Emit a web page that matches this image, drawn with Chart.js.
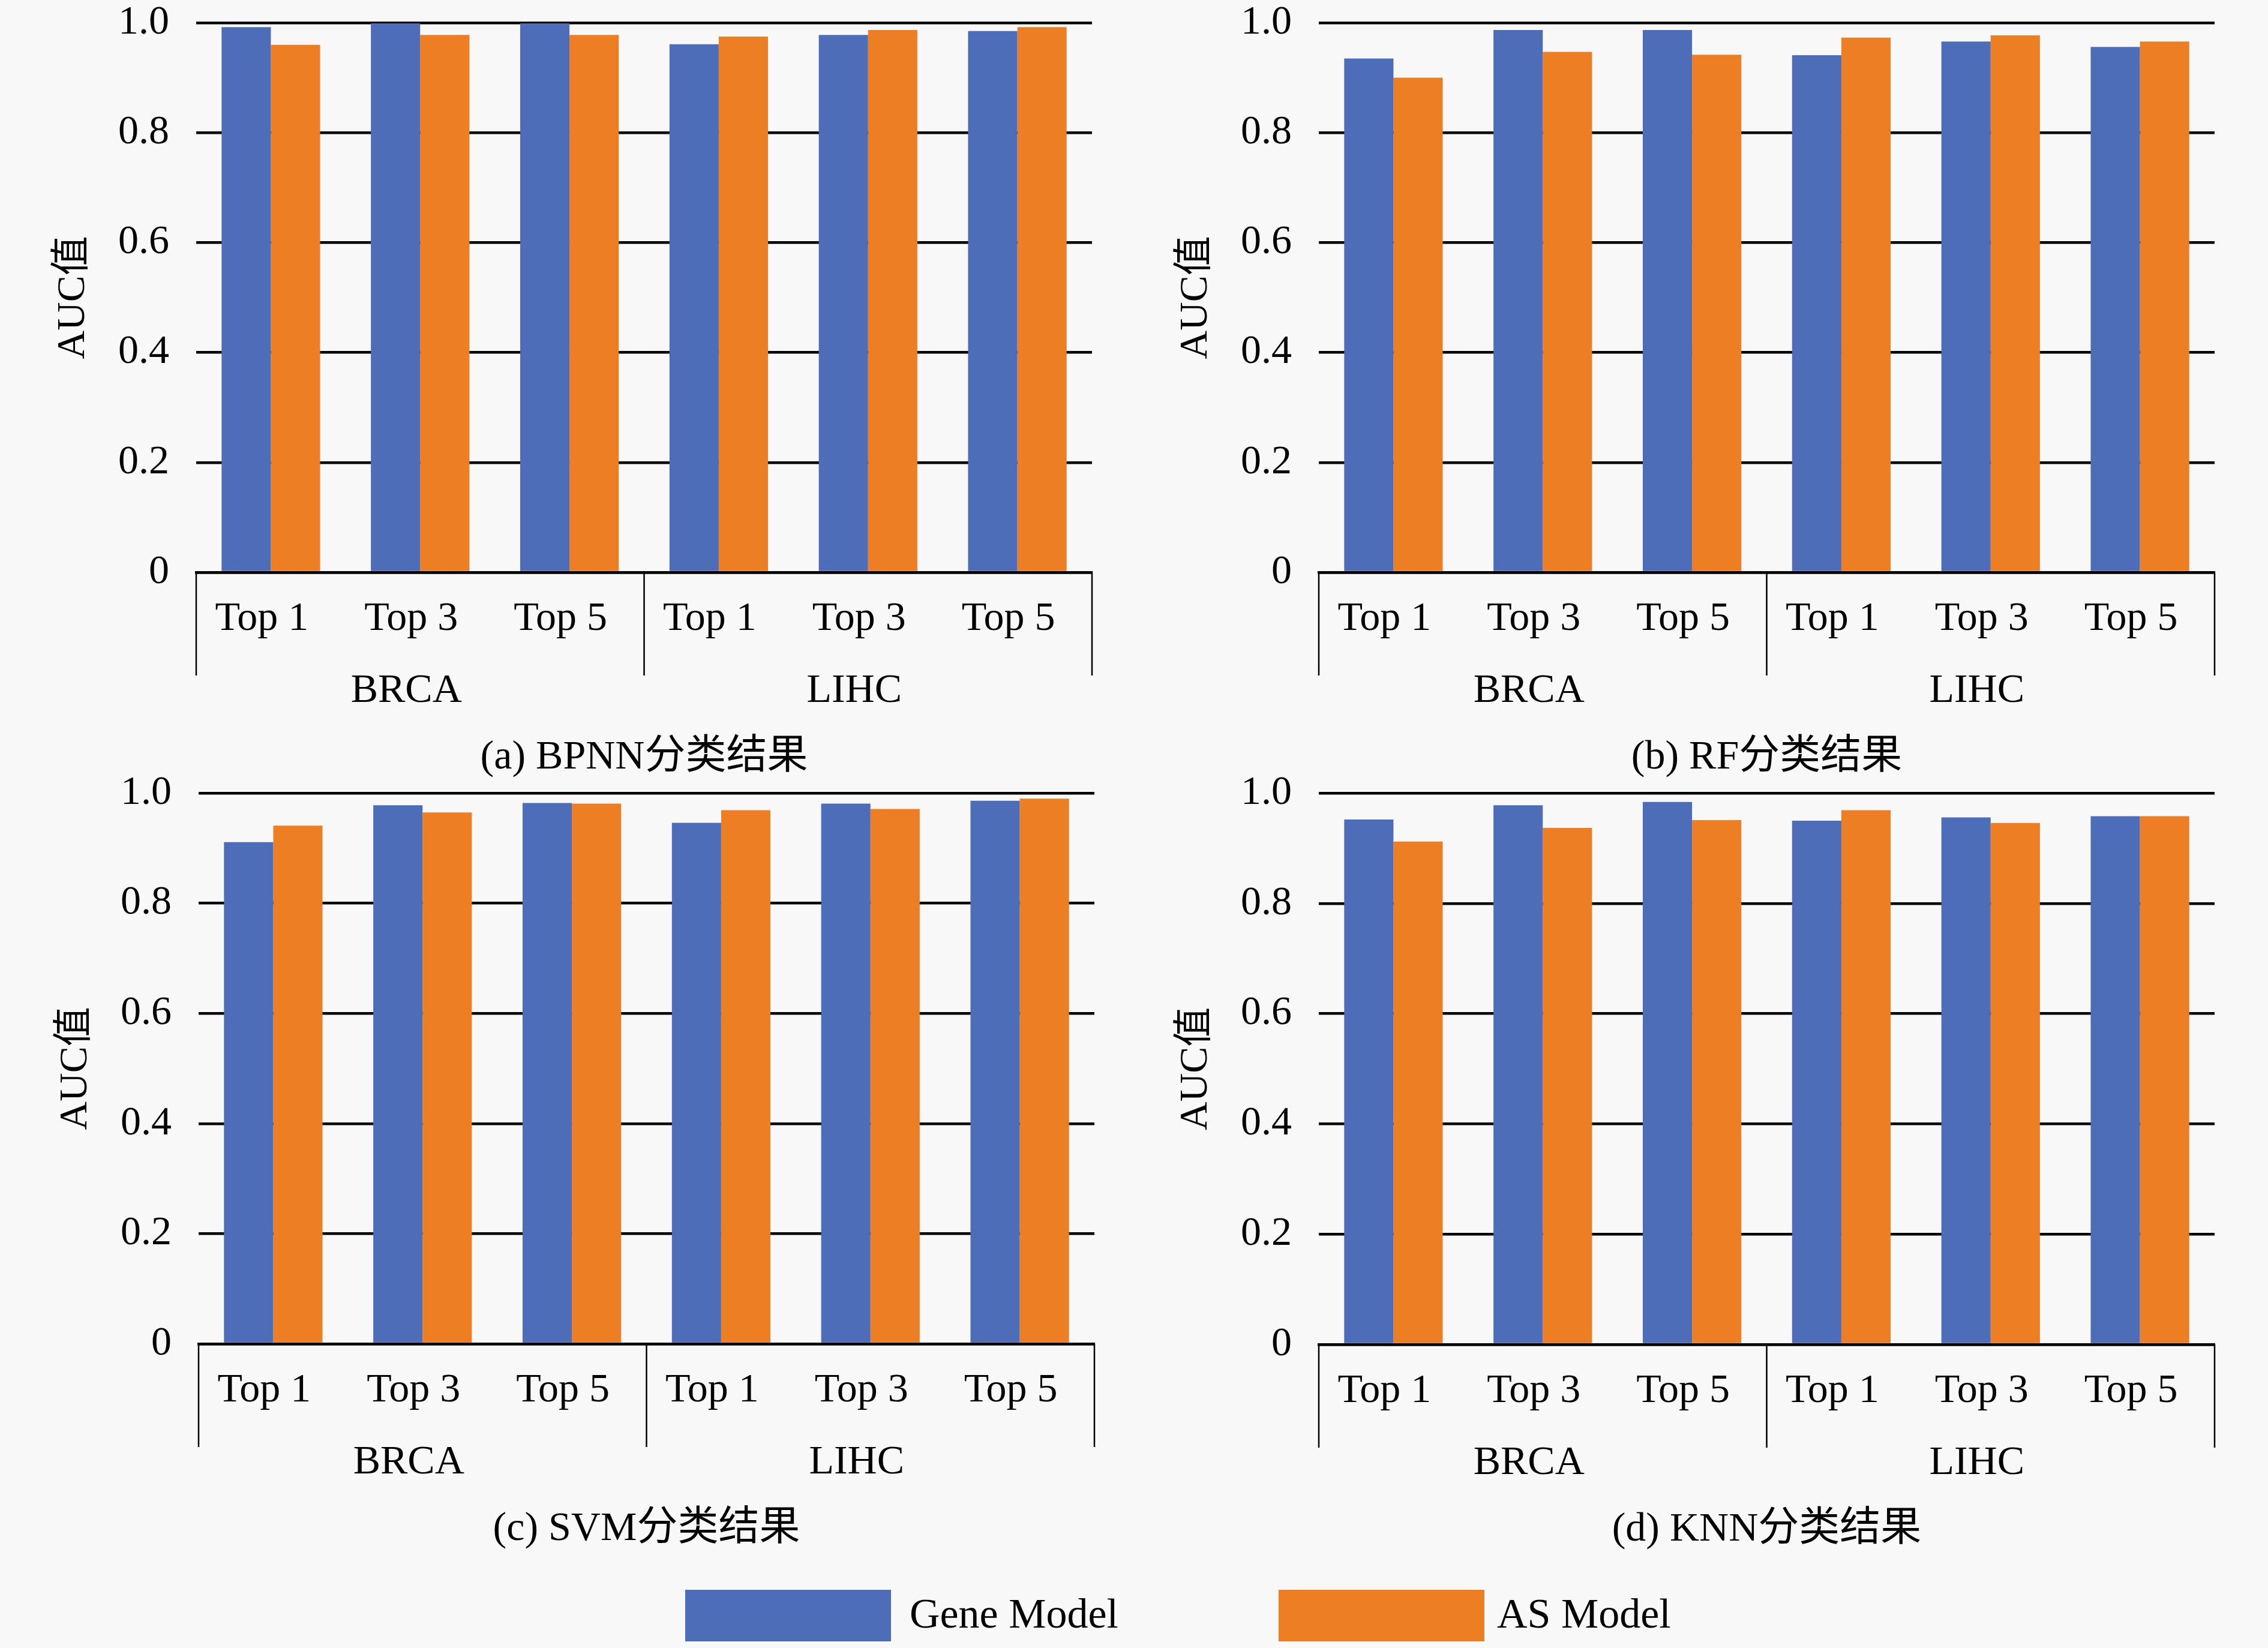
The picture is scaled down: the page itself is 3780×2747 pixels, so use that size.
<!DOCTYPE html>
<html>
<head>
<meta charset="utf-8">
<script src="https://cdn.jsdelivr.net/npm/chart.js@4.4.0/dist/chart.umd.min.js"></script>
<style>
  html, body { margin: 0; padding: 0; background: #f8f8f8; }
  body { width: 3780px; height: 2747px; position: relative; overflow: hidden; }
  canvas { position: absolute; }
  .cap { position: absolute; font-family: "Liberation Serif", "Noto Sans CJK SC", serif; font-size: 68px; color: #000; white-space: nowrap; transform: translate(-50%, -50%); line-height: 1; }
  .sw { position: absolute; }
  .lt { position: absolute; font-family: "Liberation Serif", serif; font-size: 70px; color: #000; white-space: nowrap; line-height: 1; transform: translateY(-50%); }
</style>
</head>
<body>
<canvas id="cA"></canvas>
<canvas id="cB"></canvas>
<canvas id="cC"></canvas>
<canvas id="cD"></canvas>
<div class="cap" id="capA">(a) BPNN分类结果</div>
<div class="cap" id="capB">(b) RF分类结果</div>
<div class="cap" id="capC">(c) SVM分类结果</div>
<div class="cap" id="capD">(d) KNN分类结果</div>
<div class="sw" id="swGene"></div><div class="lt" id="ltGene">Gene Model</div>
<div class="sw" id="swAS"></div><div class="lt" id="ltAS">AS Model</div>
<script>
// ---- data ----
const categories = ['Top 1', 'Top 3', 'Top 5', 'Top 1', 'Top 3', 'Top 5'];
const groups = ['BRCA', 'LIHC'];
const seriesNames = ['Gene Model', 'AS Model'];
const yTicks = [0, 0.2, 0.4, 0.6, 0.8, 1.0];

const bpnnGene = [0.992, 0.999, 0.999, 0.961, 0.978, 0.985];
const bpnnAS   = [0.960, 0.978, 0.978, 0.975, 0.987, 0.992];
const rfGene   = [0.935, 0.987, 0.987, 0.941, 0.966, 0.956];
const rfAS     = [0.900, 0.947, 0.942, 0.973, 0.977, 0.966];
const svmGene  = [0.911, 0.978, 0.982, 0.946, 0.981, 0.986];
const svmAS    = [0.941, 0.965, 0.981, 0.969, 0.971, 0.990];
const knnGene  = [0.952, 0.978, 0.984, 0.950, 0.956, 0.958];
const knnAS    = [0.912, 0.937, 0.951, 0.969, 0.946, 0.958];

// ---- styling ----
const BLUE = '#4e6db8';
const ORANGE = '#ee7e24';
const FONT = '"Liberation Serif", "Noto Sans CJK SC", serif';

const Y_W = 320, X_H = 250, PAD_T = 40, PAD_R = 20;

const panels = [
  { id: 'cA', cap: 'capA', L: 327, R: 1820, T: 38, B: 954, gene: bpnnGene, as: bpnnAS },
  { id: 'cB', cap: 'capB', L: 2198, R: 3691, T: 38, B: 954, gene: rfGene, as: rfAS },
  { id: 'cC', cap: 'capC', L: 331, R: 1824, T: 1322, B: 2240, gene: svmGene, as: svmAS },
  { id: 'cD', cap: 'capD', L: 2198, R: 3691, T: 1322, B: 2241, gene: knnGene, as: knnAS }
];

const groupPlugin = {
  id: 'groupAxis',
  afterDraw(chart) {
    const ctx = chart.ctx, a = chart.chartArea, xs = chart.scales.x;
    const mid = (xs.getPixelForValue(2) + xs.getPixelForValue(3)) / 2;
    ctx.save();
    ctx.strokeStyle = '#000';
    ctx.lineWidth = 2.5;
    [a.left, mid, a.right].forEach(x => {
      ctx.beginPath();
      ctx.moveTo(x, a.bottom);
      ctx.lineTo(x, a.bottom + 172);
      ctx.stroke();
    });
    ctx.fillStyle = '#000';
    ctx.font = '68px ' + FONT;
    ctx.textAlign = 'center';
    ctx.textBaseline = 'middle';
    ctx.fillText(groups[0], (a.left + mid) / 2 - 23, a.bottom + 198);
    ctx.fillText(groups[1], (mid + a.right) / 2 - 23, a.bottom + 198);
    ctx.restore();
  }
};

panels.forEach(p => {
  const cv = document.getElementById(p.id);
  const w = Y_W + (p.R - p.L) + PAD_R;
  const h = PAD_T + (p.B - p.T) + X_H;
  cv.width = w; cv.height = h;
  cv.style.width = w + 'px'; cv.style.height = h + 'px';
  cv.style.left = (p.L - Y_W) + 'px';
  cv.style.top = (p.T - PAD_T) + 'px';

  new Chart(cv.getContext('2d'), {
    type: 'bar',
    data: {
      labels: categories,
      datasets: [
        { label: seriesNames[0], data: p.gene, backgroundColor: BLUE, borderWidth: 0, categoryPercentage: 0.66, barPercentage: 1.0 },
        { label: seriesNames[1], data: p.as, backgroundColor: ORANGE, borderWidth: 0, categoryPercentage: 0.66, barPercentage: 1.0 }
      ]
    },
    options: {
      responsive: false,
      animation: false,
      devicePixelRatio: 1,
      layout: { padding: { top: PAD_T, right: PAD_R, left: 0, bottom: 0 } },
      plugins: { legend: { display: false }, tooltip: { enabled: false }, title: { display: false } },
      scales: {
        x: {
          grid: { display: false, drawTicks: false },
          border: { display: true, color: '#000', width: 4.5 },
          ticks: { color: '#000', font: { family: FONT, size: 68, lineHeight: 1.2 }, padding: 37, labelOffset: -15, maxRotation: 0, autoSkip: false },
          afterFit(s) { s.height = X_H; s.paddingLeft = 0; s.paddingRight = 0; }
        },
        y: {
          min: 0, max: 1,
          afterBuildTicks(s) { s.ticks = yTicks.map(v => ({ value: v })); },
          grid: { color: '#000', lineWidth: 4.5, drawTicks: false },
          border: { display: false },
          ticks: {
            color: '#000', padding: 45,
            font: { family: FONT, size: 68, lineHeight: 1 },
            callback: v => (v === 0 ? '0' : Number(v).toFixed(1))
          },
          title: { display: true, text: 'AUC值', color: '#000', font: { family: FONT, size: 66, lineHeight: 1.2 }, padding: { top: 76, bottom: 0 } },
          afterFit(s) { s.width = Y_W; s.paddingTop = 0; s.paddingBottom = 0; }
        }
      }
    },
    plugins: [groupPlugin]
  });

  const cap = document.getElementById(p.cap);
  cap.style.left = ((p.L + p.R) / 2) + 'px';
  cap.style.top = (p.B + 304) + 'px';
});

// ---- legend (HTML) ----
function placeSwatch(id, color, x, y, w, h) {
  const el = document.getElementById(id);
  el.style.left = x + 'px'; el.style.top = y + 'px';
  el.style.width = w + 'px'; el.style.height = h + 'px';
  el.style.background = color;
}
placeSwatch('swGene', BLUE, 1142, 2650, 343, 86);
placeSwatch('swAS', ORANGE, 2131, 2650, 343, 86);
const lg = document.getElementById('ltGene'); lg.style.left = '1516px'; lg.style.top = '2690px';
const la = document.getElementById('ltAS'); la.style.left = '2495px'; la.style.top = '2690px';
</script>
</body>
</html>
